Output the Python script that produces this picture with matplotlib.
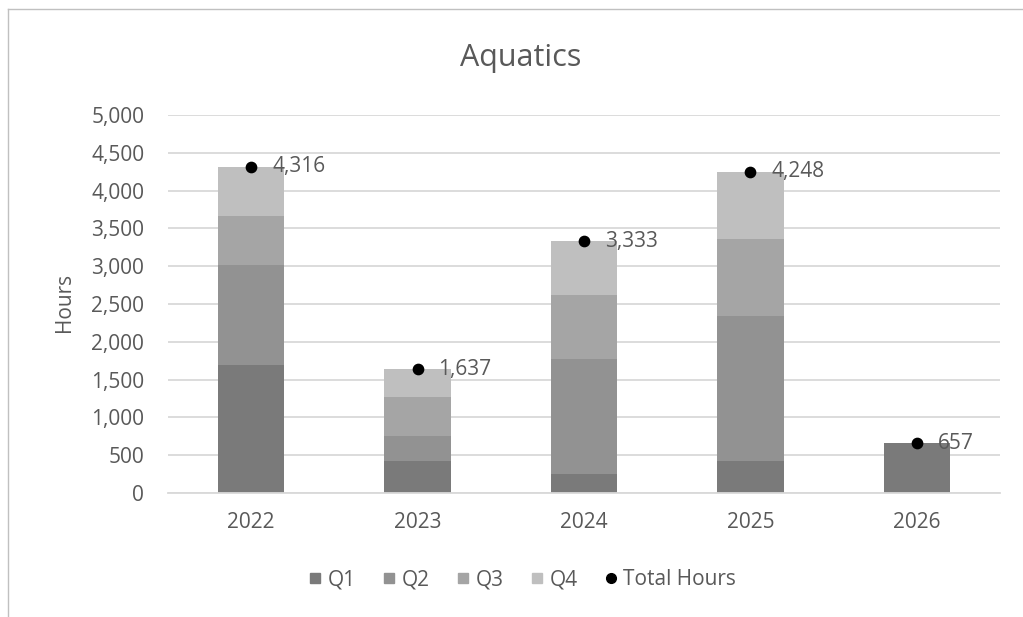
import matplotlib
matplotlib.use("Agg")
import matplotlib.pyplot as plt
from matplotlib.lines import Line2D
from matplotlib.ticker import FuncFormatter, MultipleLocator

YEARS = ["2022", "2023", "2024", "2025", "2026"]
Q1 = [1690, 420, 250, 420, 657]
Q2 = [1320, 340, 1520, 1920, 0]
Q3 = [650, 505, 850, 1015, 0]
Q4 = [656, 372, 713, 893, 0]
TOTAL_HOURS = [4316, 1637, 3333, 4248, 657]

QUARTER_LABELS = ["Q1", "Q2", "Q3", "Q4"]
QUARTER_COLORS = ["#7a7a7a", "#929292", "#a5a5a5", "#bfbfbf"]
TEXT_COLOR = "#595959"
GRID_COLOR = "#d9d9d9"
BORDER_COLOR = "#c0c0c0"

plt.rcParams["font.family"] = ["Open Sans", "DejaVu Sans"]

fig = plt.figure(figsize=(10.23, 6.17), dpi=100)
ax = fig.add_axes([0.1642, 0.2010, 0.8133, 0.6126])

x = list(range(len(YEARS)))
bottom = [0] * len(YEARS)
for label, values, color in zip(QUARTER_LABELS, [Q1, Q2, Q3, Q4], QUARTER_COLORS):
    ax.bar(x, values, width=0.4, bottom=bottom, color=color, label=label, zorder=2)
    bottom = [b + v for b, v in zip(bottom, values)]

ax.scatter(x, TOTAL_HOURS, s=55, color="black", zorder=4, label="Total Hours")
for xi, total in zip(x, TOTAL_HOURS):
    ax.annotate(f"{total:,}", (xi, total), xytext=(15, 0), textcoords="offset points",
                ha="left", va="center", fontsize=15, color=TEXT_COLOR, zorder=5)

ax.set_xlim(-0.5, len(YEARS) - 0.5)
ax.set_ylim(0, 5000)
ax.yaxis.set_major_locator(MultipleLocator(500))
ax.yaxis.set_major_formatter(FuncFormatter(lambda v, _: f"{int(v):,}"))
ax.set_xticks(x)
ax.set_xticklabels(YEARS)
ax.tick_params(axis="both", length=0, labelsize=15, colors=TEXT_COLOR)
ax.tick_params(axis="y", pad=17)
ax.tick_params(axis="x", pad=14)
ax.grid(axis="y", color=GRID_COLOR, linewidth=1.3, zorder=0)
for side in ["top", "right", "left"]:
    ax.spines[side].set_visible(False)
ax.spines["bottom"].set_color(GRID_COLOR)
ax.spines["bottom"].set_linewidth(1.3)

ax.set_ylabel("Hours", fontsize=15, color=TEXT_COLOR)
ax.yaxis.set_label_coords(-0.112, 0.503)

fig.text(0.509, 1 - 58 / 617, "Aquatics", ha="center", va="center",
         fontsize=22, color=TEXT_COLOR)

handles = [
    Line2D([0], [0], marker="s", linestyle="none", markersize=7,
           markerfacecolor=c, markeredgecolor=c, label=l)
    for l, c in zip(QUARTER_LABELS, QUARTER_COLORS)
]
handles.append(Line2D([0], [0], marker="o", linestyle="none", markersize=7,
                      markerfacecolor="black", markeredgecolor="black", label="Total Hours"))
fig.legend(handles=handles, loc="center", bbox_to_anchor=(0.511, 0.06), ncol=5,
           frameon=False, fontsize=15, labelcolor=TEXT_COLOR, handlelength=0.6,
           handletextpad=0.3, columnspacing=1.3)

# chart border (top and left edges visible in the crop)
fig.add_artist(Line2D([7.5 / 1023, 1], [1 - 9 / 617, 1 - 9 / 617], transform=fig.transFigure,
                      color=BORDER_COLOR, linewidth=1.0))
fig.add_artist(Line2D([7.5 / 1023, 7.5 / 1023], [0, 1 - 9 / 617], transform=fig.transFigure,
                      color=BORDER_COLOR, linewidth=1.0))

fig.savefig("out.png", dpi=100)
